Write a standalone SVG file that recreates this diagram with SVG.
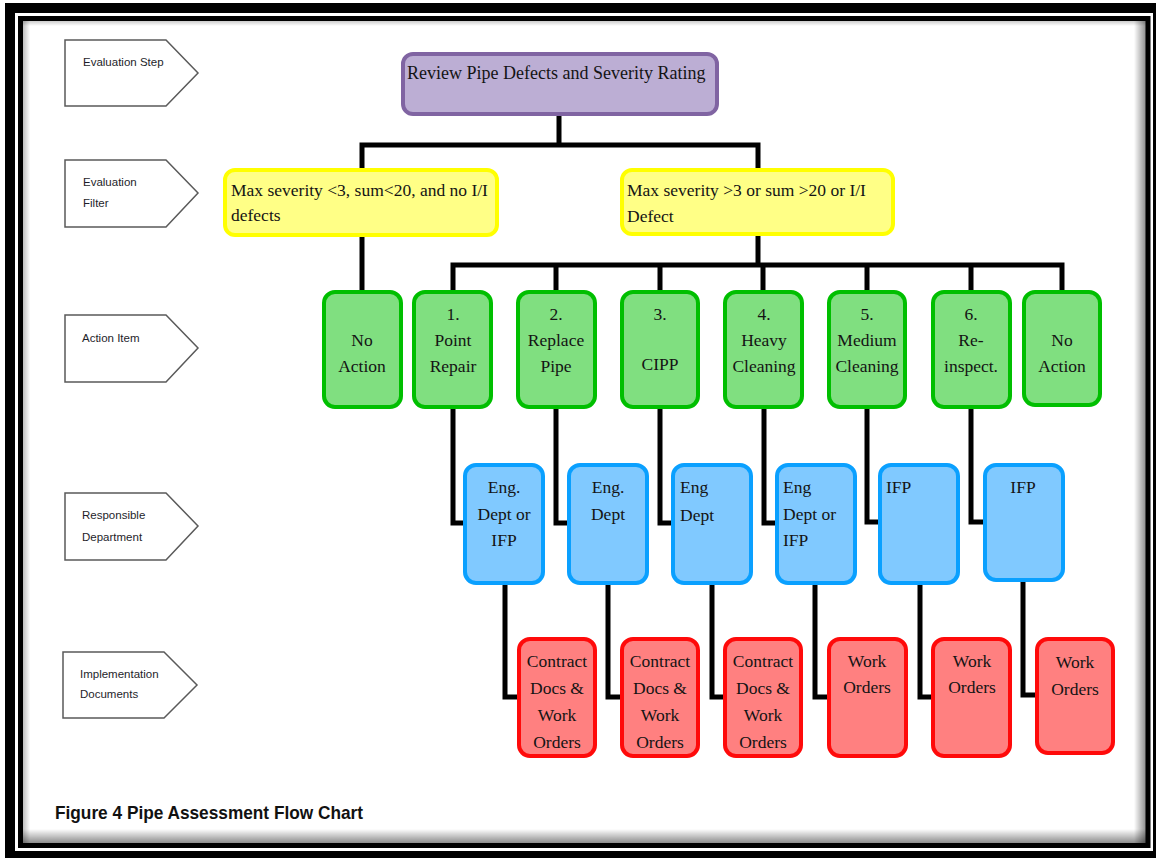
<svg xmlns="http://www.w3.org/2000/svg" width="1156" height="858" viewBox="0 0 1156 858">
  <style>
    .lbl { fill: #ffffff; stroke: #5a5a5a; stroke-width: 1.5; }
    .lbl-t { font-family: "Liberation Sans", Arial, sans-serif; font-size: 11.5px; fill: #1e1e2a; }
    .t { font-family: "Liberation Serif", "Times New Roman", serif; font-size: 17.5px; fill: #141414; }
    .c { text-anchor: middle; }
    .purple { fill: #bcaed4; stroke: #8064a2; stroke-width: 4; }
    .yellow { fill: #ffff86; stroke: #ffff00; stroke-width: 4; }
    .green { fill: #80df80; stroke: #00bf00; stroke-width: 4; }
    .blue { fill: #80c9ff; stroke: #0aa0ff; stroke-width: 4; }
    .red { fill: #ff8080; stroke: #ff0a0a; stroke-width: 4; }
    .wire { fill: none; stroke: #000; stroke-width: 5; stroke-linejoin: miter; }
    .caption { font-family: "Liberation Sans", Arial, sans-serif; font-size: 19px; font-weight: bold; fill: #111; }
  </style>
  <defs>
    <linearGradient id="shR" x1="0" y1="0" x2="1" y2="0">
      <stop offset="0" stop-color="#000" stop-opacity="0"/>
      <stop offset="1" stop-color="#000" stop-opacity="0.45"/>
    </linearGradient>
    <linearGradient id="shB" x1="0" y1="0" x2="0" y2="1">
      <stop offset="0" stop-color="#000" stop-opacity="0"/>
      <stop offset="1" stop-color="#000" stop-opacity="0.45"/>
    </linearGradient>
    <linearGradient id="shL" x1="1" y1="0" x2="0" y2="0">
      <stop offset="0" stop-color="#000" stop-opacity="0"/>
      <stop offset="1" stop-color="#000" stop-opacity="0.25"/>
    </linearGradient>
    <linearGradient id="shT" x1="0" y1="1" x2="0" y2="0">
      <stop offset="0" stop-color="#000" stop-opacity="0"/>
      <stop offset="1" stop-color="#000" stop-opacity="0.2"/>
    </linearGradient>
  </defs>

  <!-- page frame: heavy outer border, thin inner rule, soft inner shadow -->
  <rect x="0" y="0" width="1156" height="858" fill="#ffffff"/>
  <rect x="5" y="3" width="1151" height="855" fill="#000"/>
  <rect x="15" y="13" width="1138" height="838" fill="#ffffff"/>
  <rect x="1134" y="21" width="12" height="822" fill="url(#shR)"/>
  <rect x="23" y="829" width="1123" height="14" fill="url(#shB)"/>
  <rect x="23" y="21" width="7" height="822" fill="url(#shL)"/>
  <rect x="23" y="21" width="1123" height="5" fill="url(#shT)"/>
  <rect x="20.5" y="18.5" width="1127.5" height="827" fill="none" stroke="#000" stroke-width="5"/>

  <!-- row labels -->
  <g id="label-step">
    <path class="lbl" d="M65 40 H166 L198 73 L166 106 H65 Z"/>
    <text class="lbl-t" x="83" y="66">Evaluation Step</text>
  </g>
  <g id="label-filter">
    <path class="lbl" d="M65 160 H166 L198 193 L166 227 H65 Z"/>
    <text class="lbl-t" x="83" y="186">Evaluation</text>
    <text class="lbl-t" x="83" y="207">Filter</text>
  </g>
  <g id="label-action">
    <path class="lbl" d="M65 315 H166 L198 348 L166 382 H65 Z"/>
    <text class="lbl-t" x="82" y="342">Action Item</text>
  </g>
  <g id="label-dept">
    <path class="lbl" d="M65 493 H166 L198 526 L166 560 H65 Z"/>
    <text class="lbl-t" x="82" y="519">Responsible</text>
    <text class="lbl-t" x="82" y="541">Department</text>
  </g>
  <g id="label-docs">
    <path class="lbl" d="M63 652 H164 L197 685 L164 718 H63 Z"/>
    <text class="lbl-t" x="80" y="678">Implementation</text>
    <text class="lbl-t" x="80" y="698">Documents</text>
  </g>

  <!-- connectors -->
  <g id="connectors">
    <path class="wire" d="M559 116 V145"/>
    <path class="wire" d="M362 170 V145 H758 V170"/>
    <path class="wire" d="M362 235 V292"/>
    <path class="wire" d="M758 234 V265"/>
    <path class="wire" d="M453 292 V265 H1062 V292"/>
    <path class="wire" d="M556 265 V292 M660 265 V292 M763 265 V292 M867 265 V292 M971 265 V292"/>
    <path class="wire" d="M453 407 V523 H465"/>
    <path class="wire" d="M556 407 V523 H569"/>
    <path class="wire" d="M660 407 V523 H673"/>
    <path class="wire" d="M764 407 V523 H777"/>
    <path class="wire" d="M867 407 V522 H880"/>
    <path class="wire" d="M971 407 V522 H985"/>
    <path class="wire" d="M505 583 V697 H519"/>
    <path class="wire" d="M608 583 V697 H622"/>
    <path class="wire" d="M712 583 V697 H725"/>
    <path class="wire" d="M815 583 V697 H829"/>
    <path class="wire" d="M920 583 V697 H933"/>
    <path class="wire" d="M1023 580 V695 H1037"/>
  </g>

  <!-- evaluation step -->
  <g id="review">
    <rect class="purple" x="403" y="54" width="314" height="60" rx="10"/>
    <text class="t" x="407" y="79" style="font-size:18px">Review Pipe Defects and Severity Rating</text>
  </g>

  <!-- evaluation filters -->
  <g id="filter-low">
    <rect class="yellow" x="225" y="170" width="272" height="65" rx="10"/>
    <text class="t" x="231" y="196">Max severity &lt;3, sum&lt;20, and no I/I</text>
    <text class="t" x="231" y="221">defects</text>
  </g>
  <g id="filter-high">
    <rect class="yellow" x="622" y="170" width="271" height="64" rx="10"/>
    <text class="t" x="627" y="196">Max severity &gt;3 or sum &gt;20 or I/I</text>
    <text class="t" x="627" y="222">Defect</text>
  </g>

  <!-- action items -->
  <g id="act-none-low">
    <rect class="green" x="324" y="292" width="77" height="115" rx="11"/>
    <text class="t c" x="362" y="346">No</text>
    <text class="t c" x="362" y="372">Action</text>
  </g>
  <g id="act-point">
    <rect class="green" x="414" y="292" width="77" height="115" rx="11"/>
    <text class="t c" x="453" y="320">1.</text>
    <text class="t c" x="453" y="346">Point</text>
    <text class="t c" x="453" y="372">Repair</text>
  </g>
  <g id="act-replace">
    <rect class="green" x="518" y="292" width="77" height="115" rx="11"/>
    <text class="t c" x="556" y="320">2.</text>
    <text class="t c" x="556" y="346">Replace</text>
    <text class="t c" x="556" y="372">Pipe</text>
  </g>
  <g id="act-cipp">
    <rect class="green" x="622" y="292" width="76" height="115" rx="11"/>
    <text class="t c" x="660" y="320">3.</text>
    <text class="t c" x="660" y="370">CIPP</text>
  </g>
  <g id="act-heavy">
    <rect class="green" x="725" y="292" width="77" height="115" rx="11"/>
    <text class="t c" x="764" y="320">4.</text>
    <text class="t c" x="764" y="346">Heavy</text>
    <text class="t c" x="764" y="372">Cleaning</text>
  </g>
  <g id="act-medium">
    <rect class="green" x="829" y="292" width="76" height="115" rx="11"/>
    <text class="t c" x="867" y="320">5.</text>
    <text class="t c" x="867" y="346">Medium</text>
    <text class="t c" x="867" y="372">Cleaning</text>
  </g>
  <g id="act-reinspect">
    <rect class="green" x="933" y="292" width="77" height="115" rx="11"/>
    <text class="t c" x="971" y="320">6.</text>
    <text class="t c" x="971" y="346">Re-</text>
    <text class="t c" x="971" y="372">inspect.</text>
  </g>
  <g id="act-none-high">
    <rect class="green" x="1024" y="292" width="76" height="113" rx="11"/>
    <text class="t c" x="1062" y="346">No</text>
    <text class="t c" x="1062" y="372">Action</text>
  </g>

  <!-- responsible departments -->
  <g id="dept-1">
    <rect class="blue" x="465" y="465" width="78" height="118" rx="11"/>
    <text class="t c" x="504" y="493">Eng.</text>
    <text class="t c" x="504" y="520">Dept or</text>
    <text class="t c" x="504" y="546">IFP</text>
  </g>
  <g id="dept-2">
    <rect class="blue" x="569" y="465" width="78" height="118" rx="11"/>
    <text class="t c" x="608" y="493">Eng.</text>
    <text class="t c" x="608" y="520">Dept</text>
  </g>
  <g id="dept-3">
    <rect class="blue" x="673" y="465" width="78" height="118" rx="11"/>
    <text class="t" x="680" y="493">Eng</text>
    <text class="t" x="680" y="521">Dept</text>
  </g>
  <g id="dept-4">
    <rect class="blue" x="777" y="465" width="78" height="118" rx="11"/>
    <text class="t" x="783" y="493">Eng</text>
    <text class="t" x="783" y="520">Dept or</text>
    <text class="t" x="783" y="546">IFP</text>
  </g>
  <g id="dept-5">
    <rect class="blue" x="880" y="465" width="78" height="118" rx="11"/>
    <text class="t" x="886" y="493">IFP</text>
  </g>
  <g id="dept-6">
    <rect class="blue" x="985" y="465" width="78" height="115" rx="11"/>
    <text class="t c" x="1023" y="493">IFP</text>
  </g>

  <!-- implementation documents -->
  <g id="doc-1">
    <rect class="red" x="519" y="639" width="76" height="117" rx="11"/>
    <text class="t c" x="557" y="667">Contract</text>
    <text class="t c" x="557" y="694">Docs &amp;</text>
    <text class="t c" x="557" y="721">Work</text>
    <text class="t c" x="557" y="748">Orders</text>
  </g>
  <g id="doc-2">
    <rect class="red" x="622" y="639" width="76" height="117" rx="11"/>
    <text class="t c" x="660" y="667">Contract</text>
    <text class="t c" x="660" y="694">Docs &amp;</text>
    <text class="t c" x="660" y="721">Work</text>
    <text class="t c" x="660" y="748">Orders</text>
  </g>
  <g id="doc-3">
    <rect class="red" x="725" y="639" width="76" height="117" rx="11"/>
    <text class="t c" x="763" y="667">Contract</text>
    <text class="t c" x="763" y="694">Docs &amp;</text>
    <text class="t c" x="763" y="721">Work</text>
    <text class="t c" x="763" y="748">Orders</text>
  </g>
  <g id="doc-4">
    <rect class="red" x="829" y="639" width="77" height="117" rx="11"/>
    <text class="t c" x="867" y="667">Work</text>
    <text class="t c" x="867" y="693">Orders</text>
  </g>
  <g id="doc-5">
    <rect class="red" x="933" y="639" width="77" height="117" rx="11"/>
    <text class="t c" x="972" y="667">Work</text>
    <text class="t c" x="972" y="693">Orders</text>
  </g>
  <g id="doc-6">
    <rect class="red" x="1037" y="639" width="76" height="114" rx="11"/>
    <text class="t c" x="1075" y="668">Work</text>
    <text class="t c" x="1075" y="695">Orders</text>
  </g>

  <text class="caption" x="55" y="819" textLength="308" lengthAdjust="spacingAndGlyphs">Figure 4 Pipe Assessment Flow Chart</text>
</svg>
